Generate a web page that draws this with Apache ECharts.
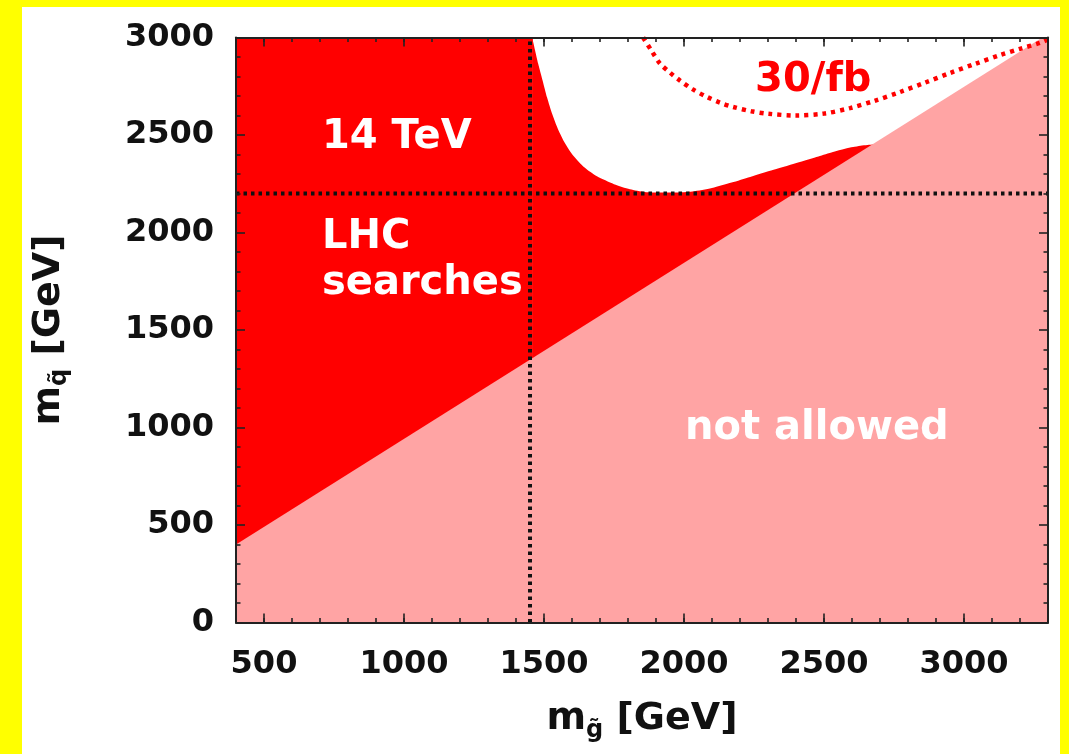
<!DOCTYPE html>
<html>
<head>
<meta charset="utf-8">
<script src="https://cdn.jsdelivr.net/npm/echarts@6/dist/echarts.min.js"></script>
<style>
html,body{margin:0;padding:0;background:#ffff00;}
#chart{width:1069px;height:754px;}
</style>
</head>
<body>
<div id="chart"></div>
<script>
// ---- data ----
const xMajorTicks = [500, 1000, 1500, 2000, 2500, 3000];
// boundary of kinematically not-allowed region (diagonal)
const diagX = [400, 3280, 3300];
const diagY = [400, 3000, 3000];
// upper edge of the 14 TeV LHC search reach (red region): flat part + curved part
const reachFlatX = [400, 1460];
const reachFlatY = [3000, 3000];
const reachX = [1458, 1468, 1479, 1495, 1511, 1530, 1550, 1575, 1604, 1645, 1689, 1750, 1807, 1860, 1914, 1970, 2030, 2100, 2170, 2236, 2320, 2414, 2480, 2532, 2575, 2604, 2630, 2655, 2680, 2710, 2750];
const reachY = [3000, 2935, 2867, 2780, 2692, 2605, 2530, 2458, 2395, 2333, 2288, 2248, 2222, 2208, 2205, 2205, 2210, 2228, 2256, 2285, 2322, 2362, 2390, 2413, 2430, 2438, 2445, 2449, 2451, 2451, 2448];
// 30/fb contour (dotted)
const lumiX = [1854, 1885, 1914, 1950, 1986, 2030, 2082, 2130, 2175, 2240, 2300, 2400, 2500, 2593, 2680, 2771, 2860, 2950, 3040, 3129, 3200, 3271, 3300];
const lumiY = [3000, 2930, 2867, 2820, 2779, 2735, 2695, 2665, 2644, 2622, 2609, 2600, 2610, 2638, 2675, 2720, 2768, 2818, 2865, 2910, 2942, 2972, 2990];
// current limits (dotted black)
const gluinoLimit = 1450;
const squarkLimit = 2200;
// annotations
const annText = ['14 TeV', 'LHC\nsearches', 'not allowed', '30/fb'];
const annX = [707, 707, 2004, 2254];
const annY = [2485, 1854, 992, 2777];
const annColor = ['#ffffff', '#ffffff', '#ffffff', '#ff0000'];

// ---- chart ----
const FONT = 'DejaVu Sans';
const AX = '#222';
const chart = echarts.init(document.getElementById('chart'), null, {renderer: 'canvas'});

const zip = (a, b) => a.map((v, i) => [v, b[i]]);
const plain = v => String(v);

function xAx(pos, major, withLabel) {
  const o = {
    type: 'value', position: pos, min: 400, max: 3300, interval: 100, z: 10,
    splitLine: {show: false},
    axisLine: {show: major, onZero: false, lineStyle: {color: AX, width: 2}},
    axisTick: {show: true, inside: true, length: major ? 9 : 4.5, lineStyle: {color: AX, width: 1.6}},
    axisLabel: {show: false}
  };
  if (major) o.axisTick.customValues = xMajorTicks;
  if (withLabel) {
    o.axisLabel = {show: true, customValues: xMajorTicks, margin: 26, color: '#111', formatter: plain,
      fontFamily: FONT, fontWeight: 'bold', fontSize: 32};
    o.name = '{m|m}{s|g\u0303} {m|[GeV]}';
    o.nameLocation = 'middle';
    o.nameGap = 74;
    o.nameTextStyle = {fontFamily: FONT, fontWeight: 'bold', fontSize: 38, color: '#111',
      rich: {
        m: {fontFamily: FONT, fontWeight: 'bold', fontSize: 38, color: '#111', lineHeight: 46},
        s: {fontFamily: FONT, fontWeight: 'bold', fontSize: 24, color: '#111', lineHeight: 46, verticalAlign: 'bottom'}
      }};
  }
  return o;
}
function yAx(pos, withLabel) {
  const o = {
    type: 'value', position: pos, min: 0, max: 3000, interval: 500, z: 10,
    splitLine: {show: false},
    axisLine: {show: true, onZero: false, lineStyle: {color: AX, width: 2}},
    axisTick: {show: true, inside: true, length: 9, lineStyle: {color: AX, width: 1.6}},
    minorTick: {show: true, splitNumber: 5, length: 4.5, lineStyle: {color: AX, width: 1.6}},
    axisLabel: {show: false}
  };
  if (withLabel) {
    o.axisLabel = {show: true, margin: 22, color: '#111', formatter: plain, fontFamily: FONT, fontWeight: 'bold', fontSize: 32};
    o.name = '{m|m}{s|q\u0303} {m|[GeV]}';
    o.nameLocation = 'middle';
    o.nameGap = 164;
    o.nameTextStyle = {fontFamily: FONT, fontWeight: 'bold', fontSize: 38, color: '#111',
      rich: {
        m: {fontFamily: FONT, fontWeight: 'bold', fontSize: 38, color: '#111', lineHeight: 46},
        s: {fontFamily: FONT, fontWeight: 'bold', fontSize: 24, color: '#111', lineHeight: 46, verticalAlign: 'bottom'}
      }};
  }
  return o;
}

const areaSeries = (name, data, color, z, smooth) => ({
  type: 'line', name, xAxisIndex: 0, yAxisIndex: 0, z,
  data, smooth, showSymbol: false, symbol: 'none',
  lineStyle: {width: 0, color}, itemStyle: {color, opacity: 1},
  areaStyle: {color, opacity: 1, origin: 'start'},
  silent: true, clip: true
});

const option = {
  backgroundColor: '#ffff00',
  animation: false,
  graphic: [{type: 'rect', z: -100, silent: true, shape: {x: 22, y: 7, width: 1038, height: 747}, style: {fill: '#ffffff'}}],
  grid: {left: 236, top: 37.5, width: 812, height: 585, containLabel: false, show: false},
  xAxis: [xAx('bottom', true, true), xAx('bottom', false, false), xAx('top', true, false), xAx('top', false, false)],
  yAxis: [yAx('left', true), yAx('right', false)],
  series: [
    areaSeries('reach flat', zip(reachFlatX, reachFlatY), '#ff0000', 1, false),
    areaSeries('reach', zip(reachX, reachY), '#ff0000', 1, 0.25),
    areaSeries('not allowed', zip(diagX, diagY), '#ffa4a4', 2, false),
    {
      type: 'line', name: '30/fb', xAxisIndex: 0, yAxisIndex: 0, z: 3,
      data: zip(lumiX, lumiY), smooth: 0.3, showSymbol: false, symbol: 'none',
      lineStyle: {width: 4.5, color: '#ff0000', opacity: 1, type: [4, 5]}, silent: true, clip: true
    },
    {
      type: 'line', name: 'gluino limit', xAxisIndex: 0, yAxisIndex: 0, z: 4,
      data: [[gluinoLimit, 0], [gluinoLimit, 3000]], showSymbol: false, symbol: 'none',
      lineStyle: {width: 4, color: '#111', opacity: 1, type: [3.5, 4]}, silent: true
    },
    {
      type: 'line', name: 'squark limit', xAxisIndex: 0, yAxisIndex: 0, z: 4,
      data: [[400, squarkLimit], [3300, squarkLimit]], showSymbol: false, symbol: 'none',
      lineStyle: {width: 4, color: '#111', opacity: 1, type: [3.5, 4]}, silent: true
    },
    {
      type: 'scatter', name: 'labels', xAxisIndex: 0, yAxisIndex: 0, z: 5, symbolSize: 0, silent: true,
      itemStyle: {opacity: 1},
      data: annText.map((t, i) => ({
        value: [annX[i], annY[i]], name: t,
        label: {color: annColor[i]}
      })),
      label: {show: true, formatter: '{b}', position: 'right', distance: 0, align: 'left', verticalAlign: 'middle',
        opacity: 1, fontFamily: FONT, fontWeight: 'bold', fontSize: 40, lineHeight: 46}
    }
  ]
};
chart.setOption(option);
</script>
</body>
</html>
